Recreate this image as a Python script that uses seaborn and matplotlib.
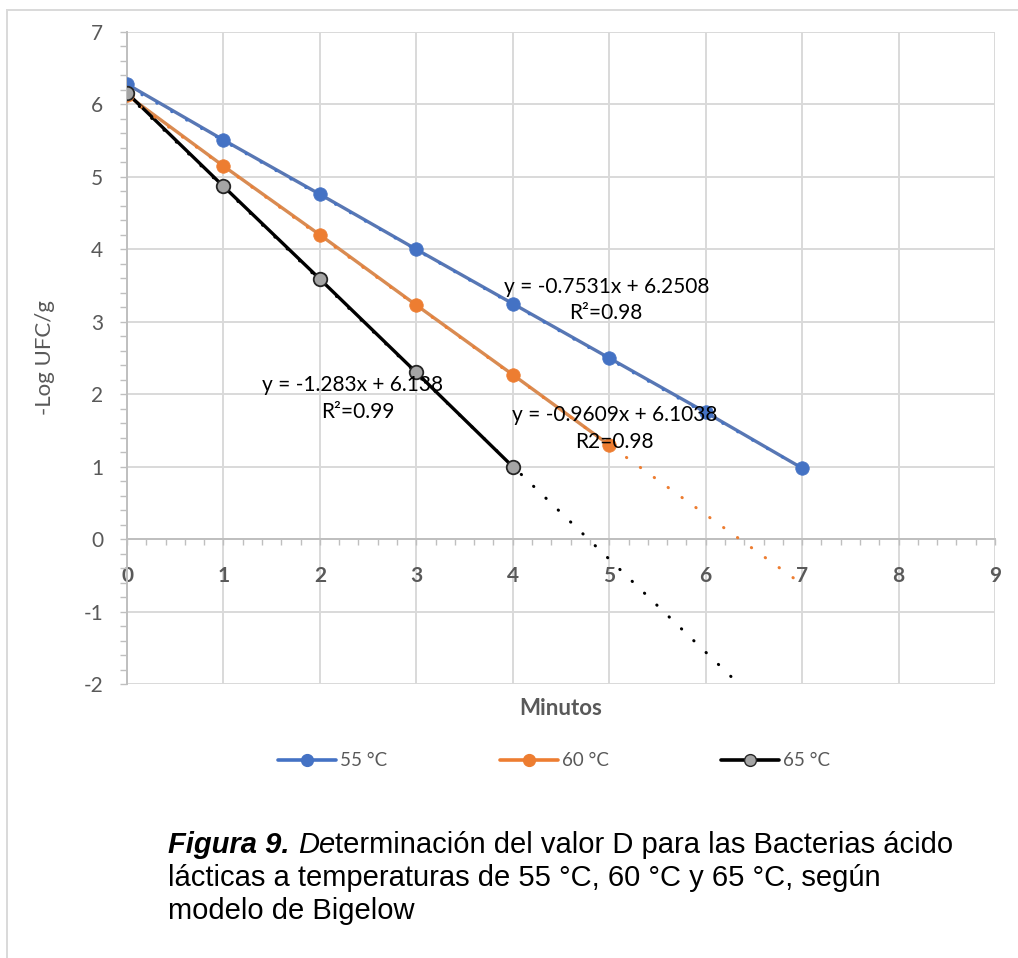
import numpy as np
import pandas as pd
import matplotlib
matplotlib.use("Agg")
import matplotlib.pyplot as plt
import seaborn as sns
from matplotlib.lines import Line2D
from matplotlib.patches import Rectangle

# ---------------- data ----------------
series_names = ["55 °C", "60 °C", "65 °C"]
minutes_55 = [0, 1, 2, 3, 4, 5, 6, 7]
log_55 = [6.28, 5.51, 4.76, 4.00, 3.25, 2.50, 1.75, 0.98]
minutes_60 = [0, 1, 2, 3, 4, 5]
log_60 = [6.13, 5.15, 4.20, 3.23, 2.27, 1.30]
minutes_65 = [0, 1, 2, 3, 4]
log_65 = [6.16, 4.87, 3.59, 2.30, 1.00]

trend_slopes = [-0.7531, -0.9609, -1.283]
trend_intercepts = [6.2508, 6.1038, 6.138]
trend_end = [7, 7, 7]

eq_texts = ["y = -0.7531x + 6.2508", "y = -0.9609x + 6.1038", "y = -1.283x + 6.138"]
r2_texts = ["R²=0.98", "R2=0.98", "R²=0.99"]

x_ticks = list(range(0, 10))
y_ticks = list(range(-2, 8))

# ---------------- style ----------------
sns.set_theme(style="white")
plt.rcParams["font.family"] = ["Lato", "DejaVu Sans"]
plt.rcParams["axes.unicode_minus"] = False

W, H = 1018, 958
fig = plt.figure(figsize=(W / 100, H / 100), dpi=100)
ax = fig.add_axes([127 / W, 1 - 684 / H, (995 - 127) / W, (684 - 32) / H])

line_cols = ["#5877B4", "#D98B52", "#000000"]
trend_cols = ["#4472C4", "#ED7D31", "#000000"]
legend_cols = ["#4472C4", "#ED7D31", "#000000"]
marker_face = ["#4472C4", "#ED7D31", "#A5A5A5"]
marker_edge = ["#4472C4", "#ED7D31", "#262626"]

xs = [minutes_55, minutes_60, minutes_65]
ys = [log_55, log_60, log_65]

for i in range(3):
    df = pd.DataFrame({"Minutos": xs[i], "val": ys[i]})
    sns.lineplot(data=df, x="Minutos", y="val", ax=ax, color=line_cols[i],
                 linewidth=2.4, legend=False, zorder=3)

for i in range(3):
    tx = np.linspace(0, trend_end[i], 50)
    ty = trend_slopes[i] * tx + trend_intercepts[i]
    ax.plot(tx, ty, color=trend_cols[i], linewidth=2.2, linestyle=(0, (0.1, 5.5)),
            dash_capstyle="round", zorder=4)

for i in range(3):
    df = pd.DataFrame({"Minutos": xs[i], "val": ys[i]})
    sns.scatterplot(data=df, x="Minutos", y="val", ax=ax, color=marker_face[i],
                    edgecolor=marker_edge[i], linewidth=1.3 if i == 2 else 0.5,
                    s=95, legend=False, zorder=5)

# annotations
afs = 15
ax.text(4.97, 3.48, eq_texts[0], ha="center", va="center", fontsize=afs, color="black", zorder=6)
ax.text(4.96, 3.12, r2_texts[0], ha="center", va="center", fontsize=afs, color="black", zorder=6)
ax.text(5.06, 1.71, eq_texts[1], ha="center", va="center", fontsize=afs, color="black", zorder=6)
ax.text(5.05, 1.34, r2_texts[1], ha="center", va="center", fontsize=afs, color="black", zorder=6)
ax.text(2.34, 2.13, eq_texts[2], ha="center", va="center", fontsize=afs, color="black", zorder=6)
ax.text(2.39, 1.75, r2_texts[2], ha="center", va="center", fontsize=afs, color="black", zorder=6)

# axes
ax.set_xlim(0, 9)
ax.set_ylim(-2, 7)
ax.set_xticks(x_ticks)
ax.set_yticks(y_ticks)
ax.set_xticks(np.arange(0, 9.01, 0.2), minor=True)
ax.set_yticks(np.arange(-2, 7.01, 0.2), minor=True)
ax.grid(True, which="major", color="#D9D9D9", linewidth=1.4)
ax.set_axisbelow(True)
for s in ["top", "right"]:
    ax.spines[s].set_visible(False)
ax.spines["bottom"].set_position(("data", 0))
ax.spines["bottom"].set_color("#BFBFBF")
ax.spines["bottom"].set_linewidth(1.4)
ax.spines["left"].set_color("#BFBFBF")
ax.spines["left"].set_linewidth(1.4)
ax.tick_params(axis="x", which="both", direction="out", length=4, width=1, color="#BFBFBF",
               labelsize=15, labelcolor="#595959", pad=15, bottom=True)
ax.tick_params(axis="y", which="both", direction="out", length=5, width=1, color="#BFBFBF",
               labelsize=15, labelcolor="#595959", pad=12, left=True)
for lab in ax.get_xticklabels():
    lab.set_fontweight("bold")

ax.set_xlabel("Minutos", fontsize=16, fontweight="bold", color="#595959")
ax.xaxis.set_label_coords(0.5, -0.022)
ax.set_ylabel("-Log UFC/g", fontsize=16, color="#595959")
ax.yaxis.set_label_coords(-0.083, 0.5)

# legend
handles = [Line2D([0], [0], color=legend_cols[i], linewidth=2.6, marker="o",
                  markersize=8.5, markerfacecolor=marker_face[i],
                  markeredgecolor=marker_edge[i]) for i in range(3)]
fig.legend(handles, series_names, loc="center", bbox_to_anchor=(554 / W, 1 - 761 / H),
           ncol=3, frameon=False, fontsize=13.5, handlelength=3.1, handletextpad=0.2,
           columnspacing=6.0, labelcolor="#595959")

# outer chart border
fig.patches.append(Rectangle((7 / W, -0.05), 1.1, 1.05 - 10 / H,
                             transform=fig.transFigure, fill=False,
                             edgecolor="#D9D9D9", linewidth=1.4))

# caption
cap_fam = ["Liberation Sans", "DejaVu Sans"]
cap_size = 21
r = fig.canvas.get_renderer()

def put_pieces(x_px, y_px, pieces):
    x = x_px / W
    for txt, wt, st in pieces:
        t = fig.text(x, 1 - y_px / H, txt, fontsize=cap_size, family=cap_fam,
                     fontweight=wt, style=st, va="center", ha="left", color="black")
        bb = t.get_window_extent(r)
        x = bb.x1 / W

put_pieces(168, 845, [("Figura 9. ", "bold", "italic"), ("De", "normal", "italic"),
                      ("terminación del valor D para las Bacterias ácido", "normal", "normal")])
put_pieces(168, 878, [("lácticas a temperaturas de 55 °C, 60 °C y 65 °C, según", "normal", "normal")])
put_pieces(168, 911, [("modelo de Bigelow", "normal", "normal")])

fig.savefig("out.png", dpi=100)
